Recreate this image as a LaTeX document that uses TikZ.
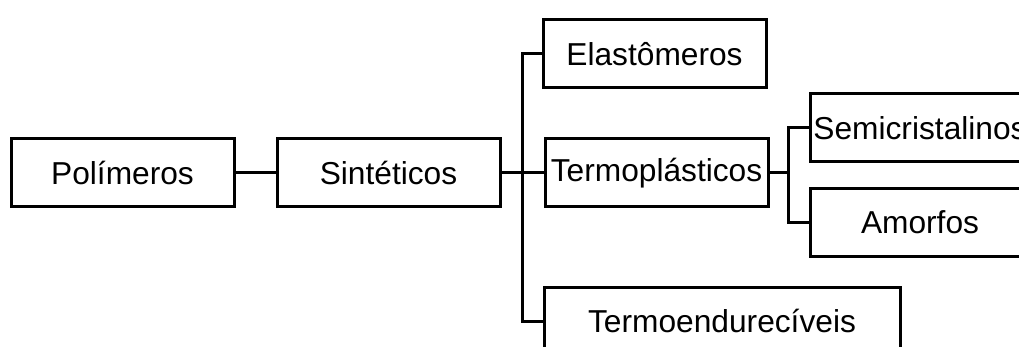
\documentclass[tikz,border=0pt]{standalone}
\usepackage{fontspec}
\setmainfont{Liberation Sans}
\begin{document}
\begin{tikzpicture}[x=1pt,y=-1pt,
  box/.style={draw=black, line width=3pt, minimum height=68pt, inner sep=0pt,
              font=\fontsize{31.7}{36}\selectfont},
  link/.style={draw=black, line width=3pt}]
\useasboundingbox (0,0) rectangle (1019,347);
\clip (0,0) rectangle (1019,347);
% first level
\node[box, minimum width=223pt] (pol) at (122.5,173) {Polímeros};
\node[box, minimum width=223pt] (sin) at (388.5,173) {Sintéticos};
% second level
\node[box, minimum width=223pt] (ela) at (654.5,54) {Elastômeros};
\node[box, minimum width=223pt] (ter) at (656.5,173) {Termoplásticos};
\node[box, minimum width=356pt] (ten) at (722,321) {Termoendurecíveis};
% third level
\node[box, minimum width=220pt] (sem) at (920,128) {Semicristalinos};
\node[box, minimum width=220pt] (amo) at (920,222.5) {Amorfos};
% junctions
\coordinate (j1) at (522,173);
\coordinate (j2) at (788,173);
% connectors
\draw[link] (pol.east) -- (sin.west);
\draw[link] (sin.east) -- (j1);
\draw[link] (j1) |- (ela.west);
\draw[link] (j1) -- (ter.west);
\draw[link] (j1) |- (ten.west);
\draw[link] (ter.east) -- (j2);
\draw[link] (j2) |- (sem.west);
\draw[link] (j2) |- (amo.west);
\end{tikzpicture}
\end{document}
